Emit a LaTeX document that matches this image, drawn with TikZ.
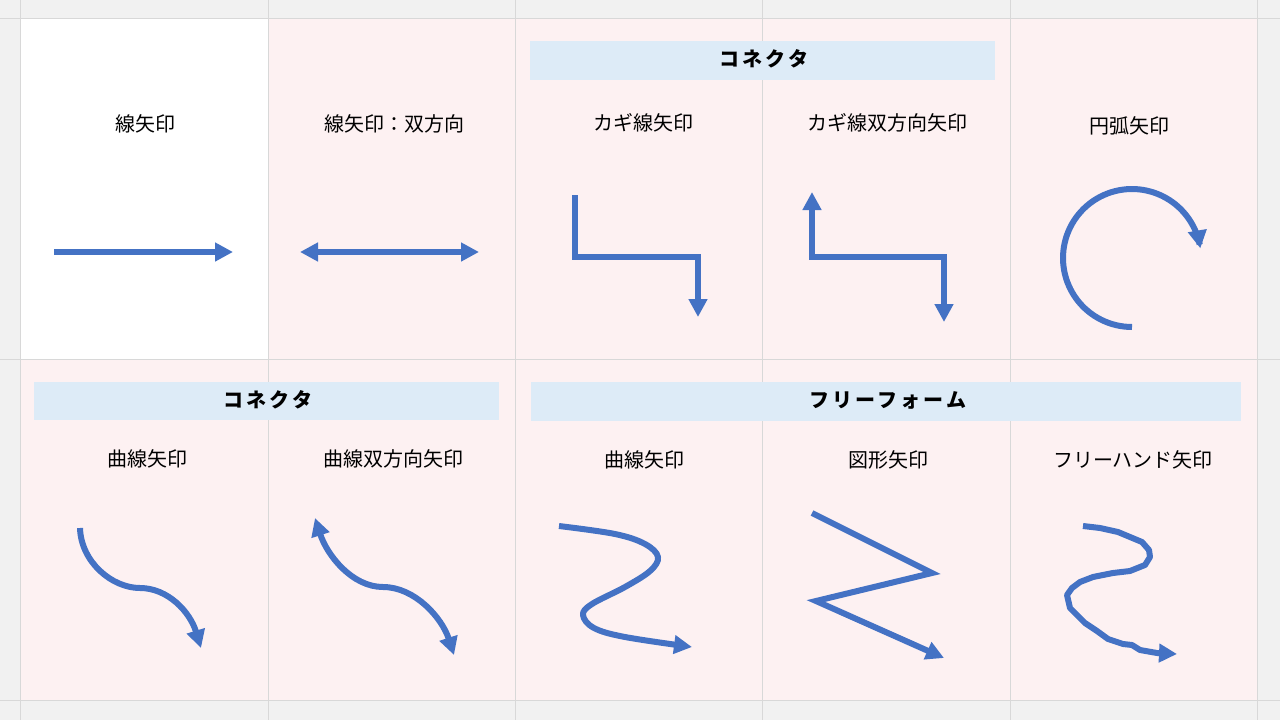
\documentclass[tikz,border=0pt]{standalone}
\usepackage{fontspec}
\newfontfamily\cjk{Noto Sans CJK JP}
\usetikzlibrary{arrows.meta}
\definecolor{outerbg}{RGB}{241,241,241}
\definecolor{gridc}{RGB}{216,216,216}
\definecolor{cellpink}{RGB}{253,241,242}
\definecolor{hdrblue}{RGB}{221,235,247}
\definecolor{arrowc}{RGB}{68,114,196}
\tikzset{
  lbl/.style={inner sep=0pt, font=\cjk\fontsize{20}{24}\selectfont, text=black},
  hdrtxt/.style={inner sep=0pt, font=\cjk\bfseries\fontsize{20}{24}\selectfont\addfontfeature{LetterSpace=15}, text=black},
  hdrbox/.style={fill=hdrblue, draw=none},
  gridline/.style={draw=gridc, line width=1pt},
  arr/.style={draw=arrowc, line width=6pt, line join=miter, -{Triangle[length=18pt,width=18pt]}},
  darr/.style={draw=arrowc, line width=6pt, line join=miter, {Triangle[length=18pt,width=18pt]}-{Triangle[length=18pt,width=18pt]}},
}
\begin{document}
\begin{tikzpicture}[x=1pt,y=-1pt]
\useasboundingbox (0,0) rectangle (1280,720);
% background
\fill[outerbg] (0,0) rectangle (1280,720);
\fill[white] (20,18) rectangle (268,359);
\fill[cellpink] (268,18) rectangle (1257,359);
\fill[cellpink] (20,359) rectangle (1257,700);
% grid
\foreach \gx in {20,268,515,762,1010,1257} {\draw[gridline] (\gx,0) -- (\gx,720);}
\foreach \gy in {18,359,700} {\draw[gridline] (0,\gy) -- (1280,\gy);}
% header boxes
\fill[hdrbox] (530,41) rectangle (995,80);
\node[hdrtxt] (h1) at (764,59) {コネクタ};
\fill[hdrbox] (34,382) rectangle (499,420);
\node[hdrtxt] (h2) at (268,400) {コネクタ};
\fill[hdrbox] (531,382) rectangle (1241,421);
\node[hdrtxt] (h3) at (888,400) {フリーフォーム};
% labels
\node[lbl] (l1) at (145,124) {線矢印};
\node[lbl] (l2) at (394,124) {線矢印：双方向};
\node[lbl] (l3) at (643,123) {カギ線矢印};
\node[lbl] (l4) at (887,123) {カギ線双方向矢印};
\node[lbl] (l5) at (1129,126) {円弧矢印};
\node[lbl] (l6) at (147,459) {曲線矢印};
\node[lbl] (l7) at (393,459) {曲線双方向矢印};
\node[lbl] (l8) at (644,460) {曲線矢印};
\node[lbl] (l9) at (888,460) {図形矢印};
\node[lbl] (l10) at (1133,460) {フリーハンド矢印};
% straight arrows
\coordinate (a1s) at (54,252); \coordinate (a1e) at (233,252);
\draw[arr] (a1s) -- (a1e);
\coordinate (a2s) at (300,252); \coordinate (a2e) at (479,252);
\draw[darr] (a2s) -- (a2e);
% elbow arrows
\coordinate (e1s) at (575,195); \coordinate (e1e) at (698,317);
\draw[arr] (e1s) |- (636,257) -| (e1e);
\coordinate (e2s) at (812,192); \coordinate (e2e) at (944,322);
\draw[darr] (e2s) |- (878,257) -| (e2e);
% arc arrow
\draw[arr] plot[domain=90:352, samples=80] ({1132+69*cos(\x)}, {258+69*sin(\x)});
% curved connector arrows
\coordinate (c1s) at (80,528); \coordinate (c1m) at (140,588); \coordinate (c1e) at (201,648);
\draw[arr] (c1s) .. controls (81,562) and (112,588) .. (c1m) .. controls (168,588) and (190,612) .. (c1e);
\coordinate (c2s) at (315,518); \coordinate (c2m) at (383,587); \coordinate (c2e) at (454,655);
\draw[darr] (c2s) .. controls (327,555) and (352,587) .. (c2m) .. controls (415,587) and (442,618) .. (c2e);
% freeform curve arrow
\draw[arr, line join=round] plot[smooth, tension=0.6] coordinates {(559,526) (615,534) (645,544) (658,557) (650,571) (625,587) (592,604) (583,615) (594,628) (625,637) (692,647)};
% zigzag arrow
\draw[arr] (812,513) -- (932,573) -- (816,601) -- (944,658);
% freehand arrow
\draw[arr, line join=round] (1083,526) -- (1100,528) -- (1118,532) -- (1130,537) -- (1142,542) -- (1149,550) -- (1150,557) -- (1145,565) -- (1130,571) -- (1113,573) -- (1093,577) -- (1080,582) -- (1072,588) -- (1067,595) -- (1070,608) -- (1078,616) -- (1085,623) -- (1097,631) -- (1108,639) -- (1123,644) -- (1132,645) -- (1140,650) -- (1157,653) -- (1177,654);
\end{tikzpicture}
\end{document}
